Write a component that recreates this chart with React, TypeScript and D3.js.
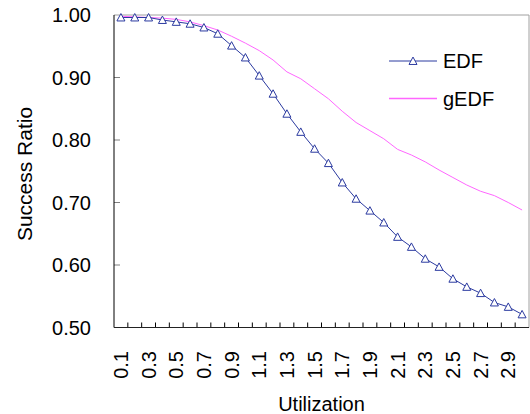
import React from "react";
import * as d3 from "d3";

const categories: string[] = [
  "0.1","0.2","0.3","0.4","0.5","0.6","0.7","0.8","0.9","1.0",
  "1.1","1.2","1.3","1.4","1.5","1.6","1.7","1.8","1.9","2.0",
  "2.1","2.2","2.3","2.4","2.5","2.6","2.7","2.8","2.9","3.0",
];
const edf: number[] = [
  0.996, 0.996, 0.996, 0.992, 0.989, 0.986, 0.980, 0.970, 0.951, 0.932,
  0.903, 0.874, 0.842, 0.813, 0.786, 0.763, 0.732, 0.706, 0.687, 0.668,
  0.645, 0.629, 0.610, 0.597, 0.578, 0.565, 0.555, 0.540, 0.533, 0.521,
];
const gedf: number[] = [
  0.998, 0.997, 0.996, 0.995, 0.993, 0.989, 0.983, 0.976, 0.966, 0.955,
  0.943, 0.928, 0.909, 0.898, 0.882, 0.866, 0.846, 0.828, 0.815, 0.802,
  0.785, 0.776, 0.765, 0.752, 0.740, 0.728, 0.718, 0.711, 0.700, 0.688,
];
const yTicks: number[] = [0.5, 0.6, 0.7, 0.8, 0.9, 1.0];
const xTickLabels: string[] = [
  "0.1","0.3","0.5","0.7","0.9","1.1","1.3","1.5","1.7","1.9","2.1","2.3","2.5","2.7","2.9",
];
const seriesNames: string[] = ["EDF", "gEDF"];

const W = 530, H = 414;
const L = 114, R = 529, T = 15, B = 327.5;
const FONT = "'Liberation Sans', Arial, sans-serif";
const BLUE = "#2b3aa0";
const PINK = "#ff66ff";

function tri(cx: number, cy: number, s: number) {
  const h = s * 0.866;
  return `M${cx},${cy - h / 2 - 0.5}L${cx + s / 2},${cy + h / 2}L${cx - s / 2},${cy + h / 2}Z`;
}

export default function App() {
  const x = d3.scaleBand<string>().domain(categories).range([L, R]).padding(0);
  const y = d3.scaleLinear().domain([0.5, 1]).range([B, T]);
  const cx = (c: string) => (x(c) as number) + x.bandwidth() / 2;
  const line = d3
    .line<number>()
    .x((_, i) => cx(categories[i]))
    .y((d) => y(d));

  return (
    <svg
      width={W}
      height={H}
      style={{ position: "absolute", left: 0, top: 0, background: "#fff" }}
      fontFamily={FONT}
    >
      {/* frame */}
      <line x1={L} x2={R} y1={T} y2={T} stroke="#a0a0a0" strokeWidth={1} />
      <line x1={R} x2={R} y1={T} y2={B} stroke="#a0a0a0" strokeWidth={1} />
      {/* y ticks */}
      {yTicks.map((t) => (
        <g key={"y" + t}>
          {t > 0.5 && t < 1 && (
            <line x1={L} x2={L + 6} y1={y(t)} y2={y(t)} stroke="#808080" strokeWidth={1} />
          )}
          <text
            x={91}
            y={y(t)}
            dy="0.36em"
            textAnchor="end"
            fontSize={20}
            fill="#000"
          >
            {t.toFixed(2)}
          </text>
        </g>
      ))}
      {/* x ticks */}
      {categories.map((c, i) =>
        i > 0 ? (
          <line
            key={"xt" + c}
            x1={x(c) as number}
            x2={x(c) as number}
            y1={B}
            y2={B - 5}
            stroke="#000"
            strokeWidth={1}
          />
        ) : null
      )}
      {xTickLabels.map((lab) => (
        <text
          key={"xl" + lab}
          transform={`translate(${cx(lab)},${351}) rotate(-90)`}
          dy="0.36em"
          textAnchor="end"
          fontSize={20}
          fill="#000"
        >
          {lab}
        </text>
      ))}
      {/* axes */}
      <line x1={L} x2={L} y1={T} y2={B} stroke="#000" strokeWidth={1} />
      <line x1={L} x2={R} y1={B} y2={B} stroke="#222" strokeWidth={1} />
      {/* series */}
      <path d={line(gedf) || ""} fill="none" stroke={PINK} strokeWidth={1} />
      <path d={line(edf) || ""} fill="none" stroke={BLUE} strokeWidth={1} />
      {edf.map((v, i) => (
        <path
          key={"m" + i}
          d={tri(cx(categories[i]), y(v), 8)}
          fill="#fff"
          stroke={BLUE}
          strokeWidth={1}
        />
      ))}
      {/* legend */}
      <line x1={389} x2={437} y1={61} y2={61} stroke={BLUE} strokeWidth={1} />
      <path d={tri(413, 61, 8)} fill="#fff" stroke={BLUE} strokeWidth={1} />
      <text x={443} y={61} dy="0.36em" fontSize={20} fill="#000">
        {seriesNames[0]}
      </text>
      <line x1={389} x2={437} y1={98.5} y2={98.5} stroke={PINK} strokeWidth={1.5} />
      <text x={443} y={98.5} dy="0.36em" fontSize={20} fill="#000">
        {seriesNames[1]}
      </text>
      {/* titles */}
      <text x={(L + R) / 2} y={411} textAnchor="middle" fontSize={20} fill="#000">
        Utilization
      </text>
      <text
        transform={`translate(${32},${174}) rotate(-90)`}
        textAnchor="middle"
        fontSize={21}
        fill="#000"
      >
        Success Ratio
      </text>
    </svg>
  );
}
